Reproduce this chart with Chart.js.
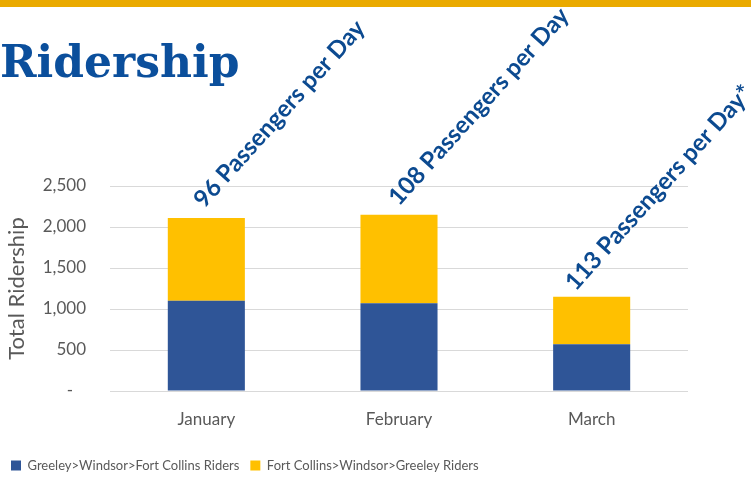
<!DOCTYPE html>
<html>
<head>
<meta charset="utf-8">
<script src="https://cdn.jsdelivr.net/npm/chart.js@4.4.1/dist/chart.umd.min.js"></script>
<style>
  html, body { margin: 0; padding: 0; background: #fff; }
  #wrap { position: relative; width: 751px; height: 477px; overflow: hidden; }
  #topbar { position: absolute; left: 0; top: 0; width: 751px; height: 7px; background: #EAAA00; }
  #title {
    position: absolute; left: 0; top: 34px;
    font-family: "DejaVu Serif", "Liberation Serif", serif;
    font-weight: bold; font-size: 44px; line-height: 56px;
    color: #0B4F9C; white-space: nowrap;
  }
  canvas { position: absolute; left: 0; top: 0; }
</style>
</head>
<body>
<div id="wrap">
  <canvas id="chart-ridership" width="751" height="477"></canvas>
  <div id="topbar"></div>
  <div id="title">Ridership</div>
</div>
<script>
'use strict';

/* ─── 데이터 ─── */
var months = ['January', 'February', 'March'];
var greeleyRiders = [1100, 1070, 570];
var fortCollinsRiders = [1010, 1080, 580];
var perDayLabels = ['96 Passengers per Day', '108 Passengers per Day', '113 Passengers per Day*'];
var seriesNames = ['Greeley>Windsor>Fort Collins Riders', 'Fort Collins>Windsor>Greeley Riders'];

var TEXT_GRAY = '#595959';
var SANS = 'Lato, "Open Sans", sans-serif';

/* ─── 막대 위 회전 라벨 ─── */
var perDayPlugin = {
  id: 'perDay',
  afterDatasetsDraw: function (chart) {
    var meta = chart.getDatasetMeta(1);
    var ctx = chart.ctx;
    var shiftX = [-2, 0, -16];
    var shiftY = [-9, -8, -5];
    ctx.save();
    ctx.font = 'bold 24px ' + SANS;
    ctx.fillStyle = '#0C4A90';
    ctx.textAlign = 'left';
    ctx.textBaseline = 'alphabetic';
    for (var i = 0; i < meta.data.length; i++) {
      var bar = meta.data[i];
      ctx.save();
      ctx.translate(bar.x + shiftX[i], bar.y + shiftY[i]);
      ctx.rotate(-48 * Math.PI / 180);
      ctx.fillText(perDayLabels[i], 0, 0);
      ctx.restore();
    }
    ctx.restore();
  }
};

var canvas = document.getElementById('chart-ridership');
new Chart(canvas, {
  type: 'bar',
  data: {
    labels: months,
    datasets: [
      { label: seriesNames[0], data: greeleyRiders, backgroundColor: '#2F5597' },
      { label: seriesNames[1], data: fortCollinsRiders, backgroundColor: '#FFC000' }
    ]
  },
  options: {
    responsive: false,
    animation: false,
    layout: { padding: { top: 186, right: 63, bottom: -5, left: 0 } },
    datasets: { bar: { categoryPercentage: 1, barPercentage: 0.4 } },
    plugins: {
      legend: {
        position: 'bottom',
        align: 'start',
        labels: {
          boxWidth: 10, boxHeight: 10, padding: 11,
          color: TEXT_GRAY,
          font: { family: SANS, size: 13 }
        }
      },
      tooltip: { enabled: false }
    },
    scales: {
      x: {
        stacked: true,
        grid: { display: false },
        border: { display: false },
        ticks: { color: TEXT_GRAY, font: { family: SANS, size: 17 }, padding: 10 },
        afterFit: function (s) { s.height = 57; }
      },
      y: {
        stacked: true,
        min: 0, max: 2500,
        grid: { color: '#D9D9D9', drawTicks: false },
        border: { display: false },
        ticks: {
          stepSize: 500,
          color: TEXT_GRAY,
          font: { family: SANS, size: 17 },
          padding: 24,
          callback: function (v) { return v === 0 ? '-   ' : v.toLocaleString('en-US'); }
        },
        title: {
          display: true, text: 'Total Ridership',
          color: TEXT_GRAY, font: { family: SANS, size: 22 }, padding: { top: 4, bottom: 0 }
        },
        afterFit: function (s) { s.width = 110; }
      }
    }
  },
  plugins: [perDayPlugin]
});
</script>
</body>
</html>
